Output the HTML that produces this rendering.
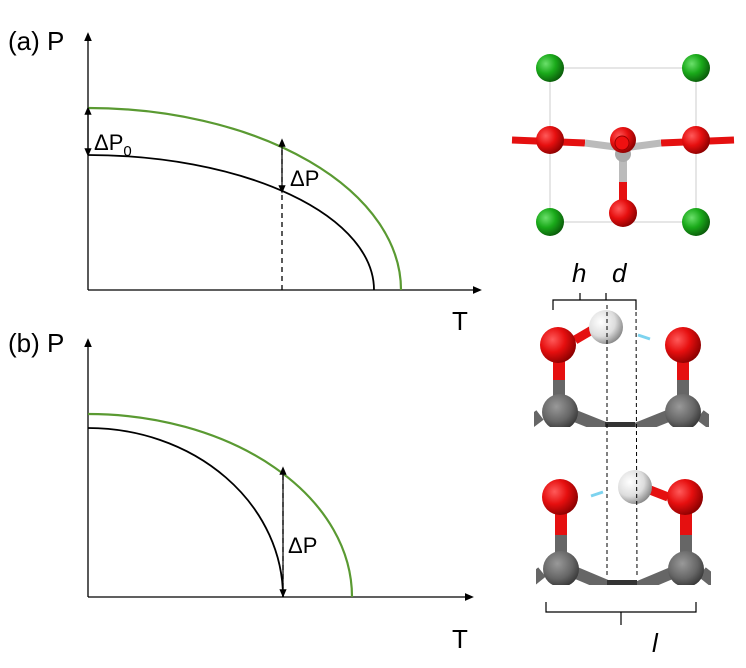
<!DOCTYPE html><html><head><style>body{margin:0;background:#fff}svg{display:block}</style></head><body>
<svg width="746" height="668" viewBox="0 0 746 668" xmlns="http://www.w3.org/2000/svg" font-family="Liberation Sans, sans-serif">
<defs>
<marker id="ar" markerWidth="8" markerHeight="8" refX="4" refY="4" orient="auto"><path d="M0,1 L7,4 L0,7 z" fill="#000"/></marker>
<radialGradient id="gR" cx="0.35" cy="0.35" r="0.7"><stop offset="0" stop-color="#ff5a5a"/><stop offset="0.5" stop-color="#e60f0f"/><stop offset="1" stop-color="#8a0000"/></radialGradient>
<radialGradient id="gG" cx="0.35" cy="0.35" r="0.7"><stop offset="0" stop-color="#6be06b"/><stop offset="0.5" stop-color="#1aaa1a"/><stop offset="1" stop-color="#0a5a0a"/></radialGradient>
<radialGradient id="gW" cx="0.35" cy="0.35" r="0.7"><stop offset="0" stop-color="#fff"/><stop offset="0.6" stop-color="#ddd"/><stop offset="1" stop-color="#888"/></radialGradient>
<radialGradient id="gK" cx="0.4" cy="0.35" r="0.7"><stop offset="0" stop-color="#999"/><stop offset="0.6" stop-color="#666"/><stop offset="1" stop-color="#333"/></radialGradient>
<clipPath id="c1"><rect x="534" y="300" width="175" height="127"/></clipPath>
<clipPath id="c2"><rect x="536" y="460" width="175" height="125"/></clipPath>
</defs>
<text x="8" y="50" font-size="26">(a) P</text>
<line x1="88" y1="290" x2="88" y2="36" stroke="#000" stroke-width="1.3" marker-end="url(#ar)"/>
<line x1="88" y1="290" x2="478" y2="290" stroke="#000" stroke-width="1.3" marker-end="url(#ar)"/>
<path d="M88,108 A313,182 0 0 1 401,290" fill="none" stroke="#5a9a32" stroke-width="2.2"/>
<path d="M88,155 A286,135 0 0 1 374,290" fill="none" stroke="#000" stroke-width="1.8"/>
<line x1="88" y1="131" x2="88" y2="110" stroke="#000" stroke-width="1.2" marker-end="url(#ar)"/>
<line x1="88" y1="131" x2="88" y2="153" stroke="#000" stroke-width="1.2" marker-end="url(#ar)"/>
<text x="94" y="150" font-size="22">ΔP<tspan font-size="15" dy="6">0</tspan></text>
<line x1="282" y1="290" x2="282" y2="142" stroke="#000" stroke-width="1.3" stroke-dasharray="5,4"/>
<line x1="282" y1="165" x2="282" y2="142" stroke="#000" stroke-width="1.2" marker-end="url(#ar)"/>
<line x1="282" y1="165" x2="282" y2="190" stroke="#000" stroke-width="1.2" marker-end="url(#ar)"/>
<text x="290" y="186" font-size="22">ΔP</text>
<text x="452" y="330" font-size="26">T</text>
<text x="8" y="352" font-size="26">(b) P</text>
<line x1="88" y1="597" x2="88" y2="342" stroke="#000" stroke-width="1.3" marker-end="url(#ar)"/>
<line x1="88" y1="597" x2="470" y2="597" stroke="#000" stroke-width="1.3" marker-end="url(#ar)"/>
<path d="M88,414 A264,183 0 0 1 352,597" fill="none" stroke="#5a9a32" stroke-width="2.2"/>
<path d="M88,428 A195,169 0 0 1 283,597" fill="none" stroke="#000" stroke-width="1.8"/>
<line x1="283" y1="597" x2="283" y2="470" stroke="#000" stroke-width="1.3" stroke-dasharray="5,4"/>
<line x1="283" y1="530" x2="283" y2="470" stroke="#000" stroke-width="1.2" marker-end="url(#ar)"/>
<line x1="283" y1="530" x2="283" y2="594" stroke="#000" stroke-width="1.2" marker-end="url(#ar)"/>
<text x="288" y="553" font-size="22">ΔP</text>
<text x="452" y="648" font-size="26">T</text>
<rect x="550" y="68" width="146" height="154" fill="none" stroke="#ccc" stroke-width="1"/>
<g stroke-linecap="butt">
<line x1="512" y1="140" x2="585" y2="143" stroke="#e51010" stroke-width="7"/>
<line x1="585" y1="143" x2="623" y2="148" stroke="#bbb" stroke-width="7"/>
<line x1="734" y1="140" x2="661" y2="143" stroke="#e51010" stroke-width="7"/>
<line x1="661" y1="143" x2="623" y2="148" stroke="#bbb" stroke-width="7"/>
<line x1="623" y1="150" x2="623" y2="182" stroke="#bbb" stroke-width="8"/>
<line x1="623" y1="182" x2="623" y2="210" stroke="#e51010" stroke-width="8"/>
</g>
<circle cx="623" cy="154" r="8" fill="#aaa"/>
<circle cx="550" cy="140" r="14" fill="url(#gR)"/><circle cx="696" cy="140" r="14" fill="url(#gR)"/>
<circle cx="623" cy="140" r="13" fill="url(#gR)"/><circle cx="622" cy="143" r="7" fill="#f01010" stroke="#900" stroke-width="1"/>
<circle cx="623" cy="213" r="14" fill="url(#gR)"/>
<circle cx="550" cy="68" r="14" fill="url(#gG)"/><circle cx="696" cy="68" r="14" fill="url(#gG)"/>
<circle cx="550" cy="222" r="14" fill="url(#gG)"/><circle cx="696" cy="222" r="14" fill="url(#gG)"/>
<text x="572" y="282" font-size="26" font-style="italic">h</text>
<text x="612" y="282" font-size="26" font-style="italic">d</text>
<path d="M553,310 V300 H636 V310 M580,300 V293 M606,300 V293" fill="none" stroke="#000" stroke-width="1.2"/>
<g clip-path="url(#c1)">
<line x1="560" y1="410" x2="610" y2="430" stroke="#666" stroke-width="12"/>
<line x1="683" y1="410" x2="633" y2="430" stroke="#666" stroke-width="12"/>
<line x1="540" y1="415" x2="520" y2="430" stroke="#666" stroke-width="12"/>
<line x1="700" y1="415" x2="720" y2="430" stroke="#666" stroke-width="12"/>
<rect x="605" y="422" width="30" height="5" fill="#333"/>
<rect x="553" y="360" width="12" height="28" fill="#e51010"/><rect x="553" y="380" width="12" height="20" fill="#666"/>
<rect x="677" y="360" width="12" height="28" fill="#e51010"/><rect x="677" y="380" width="12" height="20" fill="#666"/>
<circle cx="560" cy="412" r="18" fill="url(#gK)"/>
<circle cx="683" cy="412" r="18" fill="url(#gK)"/>
</g>
<line x1="575" y1="340" x2="592" y2="330" stroke="#e51010" stroke-width="9"/>
<circle cx="558" cy="345" r="18" fill="url(#gR)"/>
<circle cx="683" cy="345" r="18" fill="url(#gR)"/>
<circle cx="606" cy="327" r="17" fill="url(#gW)"/>
<line x1="638" y1="335" x2="650" y2="339" stroke="#7dd3ef" stroke-width="3"/>
<g clip-path="url(#c2)">
<line x1="562" y1="567" x2="612" y2="588" stroke="#666" stroke-width="12"/>
<line x1="686" y1="567" x2="636" y2="588" stroke="#666" stroke-width="12"/>
<line x1="542" y1="572" x2="522" y2="588" stroke="#666" stroke-width="12"/>
<line x1="702" y1="572" x2="722" y2="588" stroke="#666" stroke-width="12"/>
<rect x="607" y="580" width="30" height="5" fill="#333"/>
<rect x="555" y="510" width="12" height="28" fill="#e51010"/><rect x="555" y="535" width="12" height="20" fill="#666"/>
<rect x="680" y="510" width="12" height="28" fill="#e51010"/><rect x="680" y="535" width="12" height="20" fill="#666"/>
<circle cx="561" cy="569" r="18" fill="url(#gK)"/>
<circle cx="686" cy="569" r="18" fill="url(#gK)"/>
</g>
<line x1="650" y1="490" x2="668" y2="497" stroke="#e51010" stroke-width="9"/>
<circle cx="560" cy="497" r="18" fill="url(#gR)"/>
<circle cx="685" cy="497" r="18" fill="url(#gR)"/>
<circle cx="635" cy="487" r="17" fill="url(#gW)"/>
<line x1="591" y1="496" x2="603" y2="492" stroke="#7dd3ef" stroke-width="3"/>
<line x1="607" y1="305" x2="607" y2="577" stroke="#000" stroke-width="1" stroke-dasharray="4,3"/>
<line x1="636" y1="305" x2="637" y2="577" stroke="#000" stroke-width="1" stroke-dasharray="4,3"/>
<path d="M546,602 V612 H696 V602 M621,612 V625" fill="none" stroke="#000" stroke-width="1.2"/>
<text x="652" y="652" font-size="26" font-style="italic">l</text>
</svg>
</body></html>
